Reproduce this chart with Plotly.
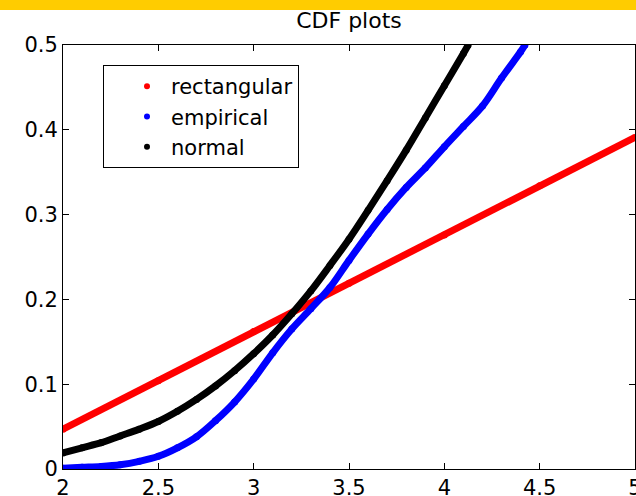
import plotly.graph_objects as go

# CDF curves: rectangular (uniform), empirical and normal
rect_x = [2.0, 2.5, 3.0, 3.5, 4.0, 4.5, 5.0]
rect_cdf = [0.047, 0.104, 0.162, 0.219, 0.276, 0.334, 0.391]

emp_x = [2.0, 2.1, 2.2, 2.3, 2.4, 2.5, 2.6, 2.7, 2.8, 2.9, 3.0, 3.1, 3.2,
         3.3, 3.4, 3.5, 3.6, 3.7, 3.8, 3.9, 4.0, 4.1, 4.2, 4.3, 4.4, 4.423]
emp_cdf = [0.001, 0.002, 0.003, 0.005, 0.009, 0.015, 0.025, 0.038, 0.057,
           0.079, 0.106, 0.137, 0.165, 0.189, 0.214, 0.246, 0.277, 0.306,
           0.332, 0.355, 0.380, 0.404, 0.428, 0.461, 0.492, 0.500]

norm_x = [2.0, 2.1, 2.2, 2.3, 2.4, 2.5, 2.6, 2.7, 2.8, 2.9, 3.0, 3.1, 3.2,
          3.3, 3.4, 3.5, 3.6, 3.7, 3.8, 3.9, 4.0, 4.1, 4.125]
norm_cdf = [0.019, 0.025, 0.031, 0.039, 0.047, 0.056, 0.068, 0.082, 0.098,
            0.116, 0.136, 0.158, 0.183, 0.210, 0.240, 0.271, 0.305, 0.340,
            0.376, 0.414, 0.452, 0.490, 0.500]

series_names = ["rectangular", "empirical", "normal"]
series_colors = ["#FF0000", "#0000FF", "#000000"]

x_ticks = [2, 2.5, 3, 3.5, 4, 4.5, 5]
x_tick_text = ["2", "2.5", "3", "3.5", "4", "4.5", "5"]
y_ticks = [0, 0.1, 0.2, 0.3, 0.4, 0.5]
y_tick_text = ["0", "0.1", "0.2", "0.3", "0.4", "0.5"]

FONT = "DejaVu Sans"
W, H = 636, 496
ML, MR, MT, MB = 63, 1, 45, 27
PW, PH = W - ML - MR, H - MT - MB

fig = go.Figure()

curves = [(rect_x, rect_cdf, "linear"), (emp_x, emp_cdf, "spline"),
          (norm_x, norm_cdf, "spline")]
for (xs, ys, shape), name, color in zip(curves, series_names, series_colors):
    fig.add_trace(go.Scatter(
        x=xs, y=ys, mode="lines+markers", name=name, showlegend=False,
        line=dict(color=color, width=7, shape=shape),
        marker=dict(color=color, size=7),
    ))

# legend entries drawn as small dots
for name, color in zip(series_names, series_colors):
    fig.add_trace(go.Scatter(
        x=[None], y=[None], mode="markers", name=name,
        marker=dict(color=color, size=6),
    ))

axis_common = dict(
    showgrid=False, zeroline=False, showline=True, linecolor="black",
    linewidth=1, mirror="ticks", ticks="inside", ticklen=6,
    tickcolor="black", tickwidth=1, ticklabeloverflow="allow",
    automargin=False,
    tickfont=dict(family=FONT, size=21, color="black"),
)

fig.update_layout(
    width=W, height=H,
    margin=dict(l=ML, r=MR, t=MT, b=MB, pad=0, autoexpand=False),
    paper_bgcolor="white", plot_bgcolor="white",
    title=dict(text="CDF plots", x=0.5, xref="paper", xanchor="center",
               y=1 - 20 / H, yref="container", yanchor="middle",
               font=dict(family=FONT, size=22, color="black")),
    xaxis=dict(range=[2, 5], tickmode="array", tickvals=x_ticks,
               ticktext=x_tick_text, **axis_common),
    yaxis=dict(range=[0, 0.5], tickmode="array", tickvals=y_ticks,
               ticktext=y_tick_text, **axis_common),
    legend=dict(x=40 / PW, y=(469 - 65) / PH, xanchor="left", yanchor="top",
                bgcolor="white", bordercolor="black", borderwidth=1,
                font=dict(family=FONT, size=21, color="black"),
                itemwidth=38, indentation=19, tracegroupgap=0),
    shapes=[dict(type="rect", xref="paper", yref="paper",
                 x0=-ML / PW - 0.01, x1=1 + 2 / PW,
                 y0=1 + (MT - 10) / PH, y1=1 + (MT + 1) / PH,
                 fillcolor="#FFCC00", line=dict(width=0), layer="above")],
)

fig.write_html("out.html")
